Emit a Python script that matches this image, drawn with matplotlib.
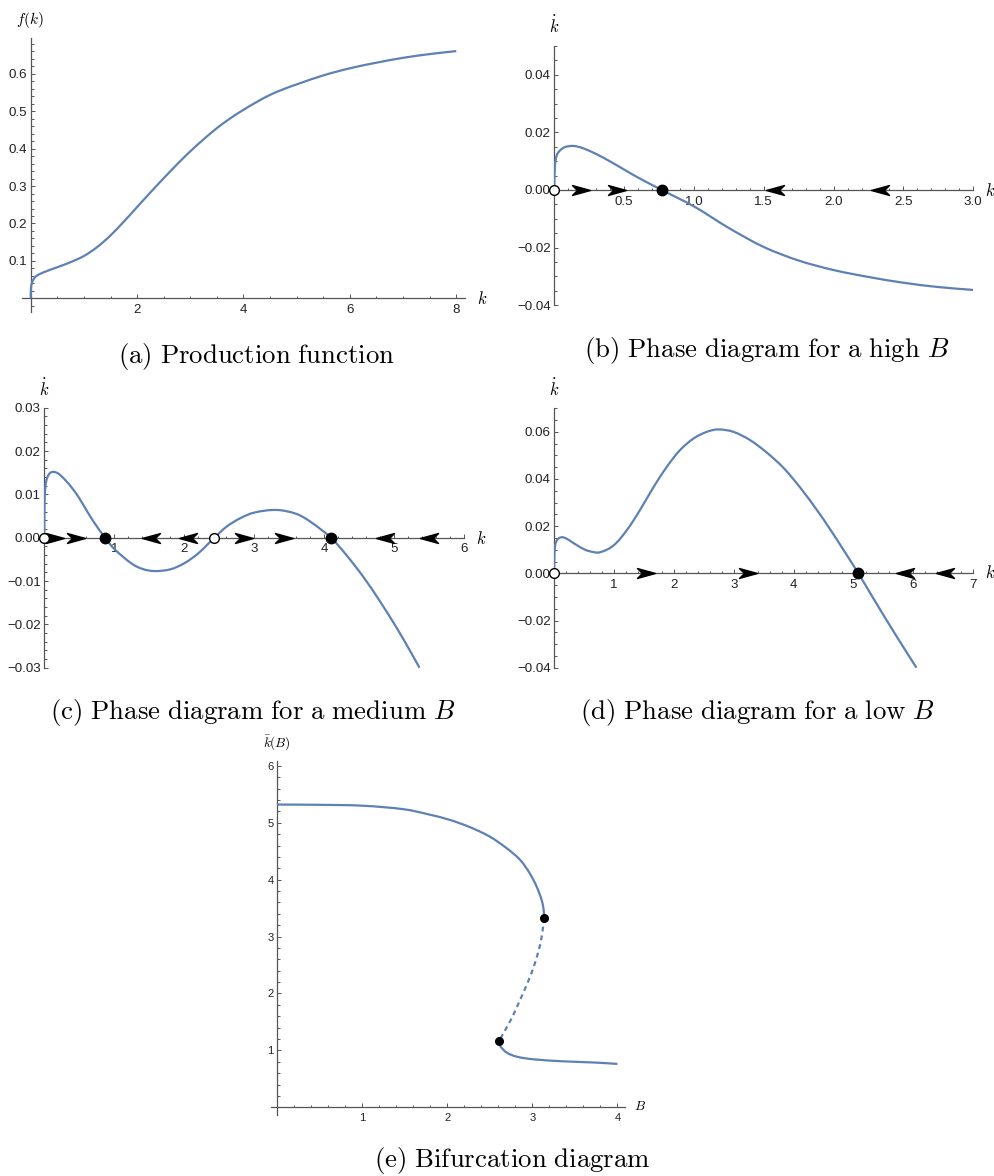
import numpy as np
import matplotlib
matplotlib.use("Agg")
import matplotlib.pyplot as plt
from matplotlib.path import Path
from matplotlib.patches import PathPatch
from matplotlib.ticker import MultipleLocator

# (a) production function
a_k = [0, 0.004, 0.02, 0.05, 0.11, 0.27, 0.5, 0.74, 1.0, 1.25, 1.5, 1.75, 2.0, 2.25, 2.5,
       2.75, 3.0, 3.25, 3.5, 3.75, 4.0, 4.25, 4.5, 4.75, 5.0, 5.5, 6.0, 6.5, 7.0, 7.5, 8.0]
a_f = [0, 0.025, 0.040, 0.050, 0.060, 0.071, 0.083, 0.096, 0.113, 0.137, 0.168, 0.205, 0.244,
       0.283, 0.321, 0.358, 0.393, 0.425, 0.455, 0.481, 0.504, 0.525, 0.544, 0.559, 0.572,
       0.596, 0.615, 0.630, 0.643, 0.653, 0.661]

# (b) high B
b_k = [0, 0.004, 0.017, 0.04, 0.077, 0.136, 0.2, 0.3, 0.4, 0.5, 0.6, 0.77, 1.0, 1.25, 1.5,
       1.75, 2.0, 2.25, 2.5, 2.75, 3.0]
b_kdot = [0, 0.008, 0.012, 0.0137, 0.0149, 0.0153, 0.0146, 0.0125, 0.0099, 0.0071, 0.0043, 0,
          -0.0057, -0.0132, -0.0198, -0.0245, -0.0278, -0.0302, -0.0322, -0.0337, -0.0347]
b_stable = [0.77]
b_unstable = [0]
b_right = [0.19, 0.447]
b_left = [1.58, 2.33]

# (c) medium B
c_k = [0, 0.004, 0.017, 0.04, 0.08, 0.13, 0.2, 0.3, 0.4, 0.5, 0.6, 0.7, 0.867, 1.0, 1.25,
       1.4, 1.57, 1.8, 2.0, 2.2, 2.43, 2.6, 2.8, 3.0, 3.32, 3.6, 3.8, 4.095, 4.3, 4.56, 4.8,
       5.03, 5.2, 5.36]
c_kdot = [0, 0.008, 0.012, 0.0138, 0.0149, 0.0152, 0.0148, 0.0133, 0.0114, 0.0091, 0.0064,
          0.0038, 0, -0.0026, -0.0060, -0.0072, -0.0077, -0.0073, -0.0059, -0.0036, 0, 0.0025,
          0.0045, 0.0058, 0.0064, 0.0055, 0.0037, 0, -0.0037, -0.0091, -0.0148, -0.0207,
          -0.0254, -0.030]
c_stable = [0.867, 4.095]
c_unstable = [0, 2.43]
c_right = [0.15, 0.455, 2.855, 3.43]
c_left = [1.52, 2.05, 4.87, 5.50]

# (d) low B
d_k = [0, 0.004, 0.017, 0.04, 0.08, 0.13, 0.2, 0.3, 0.4, 0.5, 0.6, 0.76, 0.99, 1.21, 1.43,
       1.66, 1.88, 2.1, 2.33, 2.55, 2.74, 2.99, 3.27, 3.55, 3.83, 4.11, 4.4, 4.6, 4.85, 5.08,
       5.3, 5.55, 5.8, 6.05]
d_kdot = [0, 0.008, 0.012, 0.0138, 0.0149, 0.0153, 0.0148, 0.0132, 0.0116, 0.0102, 0.0093,
          0.0089, 0.0118, 0.0182, 0.0267, 0.0366, 0.0451, 0.0522, 0.0572, 0.060, 0.061, 0.060,
          0.0565, 0.0512, 0.0447, 0.0363, 0.0264, 0.019, 0.0092, 0, -0.0093, -0.0198, -0.030,
          -0.040]
d_stable = [5.08]
d_unstable = [0]
d_right = [1.53, 3.245]
d_left = [5.86, 6.53]

# (e) bifurcation diagram: stable upper, unstable middle, stable lower branch
e_up_B = [0, 0.5, 1.0, 1.5, 1.8, 2.03, 2.27, 2.5, 2.7, 2.855, 2.97, 3.05, 3.11, 3.133, 3.137]
e_up_k = [5.32, 5.315, 5.30, 5.235, 5.14, 5.05, 4.92, 4.756, 4.55, 4.35, 4.11, 3.88, 3.64,
          3.47, 3.33]
e_mid_B = [3.137, 3.12, 3.09, 3.03, 2.95, 2.855, 2.757, 2.659, 2.612]
e_mid_k = [3.33, 3.10, 2.85, 2.53, 2.21, 1.886, 1.564, 1.30, 1.17]
e_low_B = [2.612, 2.615, 2.627, 2.698, 2.816, 3.01, 3.365, 3.757, 4.0]
e_low_k = [1.17, 1.11, 1.066, 0.961, 0.89, 0.844, 0.808, 0.785, 0.762]
e_fold_B = [3.137, 2.612]
e_fold_k = [3.33, 1.17]

BLUE = "#5E81B5"
AXIS = "#555555"
W, H = 995, 1176
TICK = 9.6
CAP = 19.3

plt.rcParams["mathtext.fontset"] = "cm"
plt.rcParams["font.family"] = ["Liberation Sans", "DejaVu Sans"]

fig = plt.figure(figsize=(W / 100, H / 100), dpi=100)


def box(x0, y0, x1, y1):
    return [x0 / W, 1 - y1 / H, (x1 - x0) / W, (y1 - y0) / H]


def put(x, y, s, size, **kw):
    fig.text(x / W, 1 - y / H, s, fontsize=size, ha="center", va="center", **kw)


def frame(rect, xlim, ylim, xt, xl, yt, yl, xminor, yminor, size=TICK):
    ax = fig.add_axes(rect)
    ax.set_xlim(*xlim)
    ax.set_ylim(*ylim)
    ax.patch.set_visible(False)
    for s in ("top", "right"):
        ax.spines[s].set_visible(False)
    for s in ("left", "bottom"):
        ax.spines[s].set_position(("data", 0))
        ax.spines[s].set_color(AXIS)
        ax.spines[s].set_linewidth(0.9)
        ax.spines[s].set_zorder(1)
    ax.set_xticks(xt, xl)
    ax.set_yticks(yt, yl)
    ax.xaxis.set_minor_locator(MultipleLocator(xminor))
    ax.yaxis.set_minor_locator(MultipleLocator(yminor))
    ax.tick_params(which="both", direction="in", color=AXIS, width=0.7,
                   labelsize=size, labelcolor="#222222")
    ax.tick_params(which="major", length=3.2)
    ax.tick_params(which="minor", length=1.8)
    ax.tick_params(axis="x", pad=4)
    ax.tick_params(axis="y", pad=2.5)
    return ax


def curve(ax, x, y, **kw):
    # smooth cubic path through the sampled points (tangents taken in pixel space)
    P = ax.transData.transform(np.column_stack([x, y]))
    n = len(P)
    T = np.empty_like(P)
    for i in range(n):
        d = P[min(i + 1, n - 1)] - P[max(i - 1, 0)]
        T[i] = d / np.hypot(*d)
    verts = [P[0]]
    codes = [Path.MOVETO]
    for i in range(n - 1):
        L = np.hypot(*(P[i + 1] - P[i])) / 3
        verts += [P[i] + T[i] * L, P[i + 1] - T[i + 1] * L, P[i + 1]]
        codes += [Path.CURVE4] * 3
    verts = ax.transData.inverted().transform(np.array(verts))
    ax.add_patch(PathPatch(Path(verts, codes), fill=False, edgecolor=BLUE,
                           lw=1.6, zorder=2, **kw))


# arrowhead markers pointing right / left along the k axis
head = [(1, 0), (-1, 0.55), (-0.45, 0), (-1, -0.55), (1, 0)]
codes = [Path.MOVETO, Path.LINETO, Path.LINETO, Path.LINETO, Path.CLOSEPOLY]
ARROW_R = Path(head, codes)
ARROW_L = Path([(-x, y) for x, y in head], codes)


def phase(ax, k, kdot, stable, unstable, right, left):
    curve(ax, k, kdot)
    ax.plot(right, [0] * len(right), ls="none", marker=ARROW_R, ms=13,
            color="black", zorder=4, clip_on=False)
    ax.plot(left, [0] * len(left), ls="none", marker=ARROW_L, ms=13,
            color="black", zorder=4, clip_on=False)
    ax.plot(stable, [0] * len(stable), ls="none", marker="o", ms=7.5,
            color="black", zorder=5, clip_on=False)
    ax.plot(unstable, [0] * len(unstable), ls="none", marker="o", ms=7,
            mfc="white", mec="black", mew=1.0, zorder=5, clip_on=False)


def minus(vals, fmt):
    return [(fmt % v).replace("-", "\u2212") for v in vals]


# (a)
ax = frame(box(22.2, 38.0, 464.8, 312.1), (-0.16, 8.16), (-0.037, 0.696),
           [2, 4, 6, 8], ["2", "4", "6", "8"],
           [0.1, 0.2, 0.3, 0.4, 0.5, 0.6], ["0.1", "0.2", "0.3", "0.4", "0.5", "0.6"],
           0.5, 0.02)
curve(ax, a_k, a_f)
put(30, 20, r"$f(k)$", 11)
put(482, 298, r"$k$", 12)
put(257, 356, r"$\mathrm{(a)\ Production\ function}$", CAP)

# (b)
bx = [0.5, 1.0, 1.5, 2.0, 2.5, 3.0]
by = [-0.04, -0.02, 0.0, 0.02, 0.04]
ax = frame(box(554.3, 46.0, 973.3, 305.2), (0, 3.0), (-0.04, 0.05),
           bx, minus(bx, "%.1f"), by, minus(by, "%.2f"), 0.1, 0.005)
phase(ax, b_k, b_kdot, b_stable, b_unstable, b_right, b_left)
put(554, 25, r"$\dot{k}$", 12)
put(990, 190, r"$k$", 12)
put(767, 350, r"$\mathrm{(b)\ Phase\ diagram\ for\ a\ high}\ B$", CAP)

# (c)
cx = [1, 2, 3, 4, 5, 6]
cy = [-0.03, -0.02, -0.01, 0.0, 0.01, 0.02, 0.03]
ax = frame(box(44.3, 407.7, 464.3, 667.7), (0, 6), (-0.03, 0.03),
           cx, [str(v) for v in cx], cy, minus(cy, "%.2f"), 0.2, 0.002)
phase(ax, c_k, c_kdot, c_stable, c_unstable, c_right, c_left)
put(44, 388, r"$\dot{k}$", 12)
put(481, 538, r"$k$", 12)
put(253, 712, r"$\mathrm{(c)\ Phase\ diagram\ for\ a\ medium}\ B$", CAP)

# (d)
dx = [1, 2, 3, 4, 5, 6, 7]
dy = [-0.04, -0.02, 0.0, 0.02, 0.04, 0.06]
ax = frame(box(554.2, 408.2, 973.3, 667.7), (0, 7), (-0.04, 0.07),
           dx, [str(v) for v in dx], dy, minus(dy, "%.2f"), 0.2, 0.005)
phase(ax, d_k, d_kdot, d_stable, d_unstable, d_right, d_left)
put(554, 388, r"$\dot{k}$", 12)
put(990, 573, r"$k$", 12)
put(757, 712, r"$\mathrm{(d)\ Phase\ diagram\ for\ a\ low}\ B$", CAP)

# (e)
ex = [1, 2, 3, 4]
ey = [1, 2, 3, 4, 5, 6]
ax = frame(box(270.5, 761.3, 625.0, 1114.7), (-0.08, 4.09), (-0.13, 6.08),
           ex, [str(v) for v in ex], ey, [str(v) for v in ey], 0.2, 0.2, size=8)
curve(ax, e_up_B, e_up_k)
curve(ax, e_mid_B, e_mid_k, ls=(0, (2.2, 1.8)))
curve(ax, e_low_B, e_low_k)
ax.plot(e_fold_B, e_fold_k, ls="none", marker="o", ms=5.5, color="black", zorder=5)
put(277, 743, r"$\bar{k}(B)$", 9.5)
put(640, 1107, r"$B$", 9.5)
put(512, 1160, r"$\mathrm{(e)\ Bifurcation\ diagram}$", CAP)

fig.savefig("out.png", dpi=100)
